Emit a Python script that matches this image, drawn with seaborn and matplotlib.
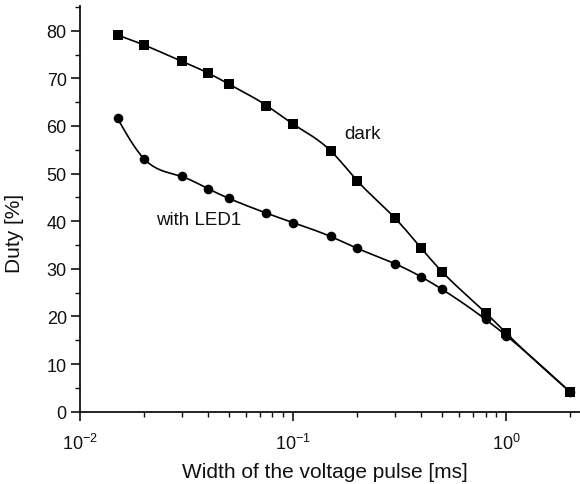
import numpy as np
import pandas as pd
import matplotlib
matplotlib.use("Agg")
import matplotlib.pyplot as plt
from matplotlib.ticker import MultipleLocator, LogLocator, NullFormatter
import seaborn as sns

# ---- data ----
pulse_width_ms = [0.015, 0.02, 0.03, 0.04, 0.05, 0.075, 0.1, 0.15, 0.2, 0.3, 0.4, 0.5, 0.8, 1.0, 2.0]
duty_dark = [79.1, 77.0, 73.6, 71.1, 68.8, 64.3, 60.4, 54.8, 48.5, 40.7, 34.3, 29.4, 20.8, 16.5, 4.1]
duty_led1 = [61.6, 53.1, 49.4, 46.8, 44.8, 41.7, 39.7, 36.8, 34.3, 31.1, 28.3, 25.7, 19.4, 16.0, 4.1]
series_labels = ["dark", "with LED1"]
x_label = "Width of the voltage pulse [ms]"
y_label = "Duty [%]"

sns.set_style("ticks")
plt.rcParams['font.family'] = ['Liberation Sans', 'DejaVu Sans']
plt.rcParams['mathtext.fontset'] = 'custom'
plt.rcParams['mathtext.rm'] = 'Liberation Sans'
plt.rcParams['mathtext.it'] = 'Liberation Sans:italic'
plt.rcParams['text.color'] = '#111111'
plt.rcParams['axes.labelcolor'] = '#111111'


def natural_spline(x, y, xs):
    x = np.asarray(x, float); y = np.asarray(y, float)
    n = len(x)
    h = np.diff(x)
    A = np.zeros((n, n)); b = np.zeros(n)
    A[0, 0] = 1; A[-1, -1] = 1
    for i in range(1, n - 1):
        A[i, i - 1] = h[i - 1]
        A[i, i] = 2 * (h[i - 1] + h[i])
        A[i, i + 1] = h[i]
        b[i] = 3 * ((y[i + 1] - y[i]) / h[i] - (y[i] - y[i - 1]) / h[i - 1])
    c = np.linalg.solve(A, b)
    out = np.empty_like(xs)
    for j, xv in enumerate(xs):
        i = min(max(np.searchsorted(x, xv) - 1, 0), n - 2)
        d = xv - x[i]
        bi = (y[i + 1] - y[i]) / h[i] - h[i] * (2 * c[i] + c[i + 1]) / 3
        di = (c[i + 1] - c[i]) / (3 * h[i])
        out[j] = y[i] + bi * d + c[i] * d ** 2 + di * d ** 3
    return out


fig = plt.figure(figsize=(5.8, 4.85), dpi=100)
ax = fig.add_axes([80 / 580, 72.3 / 485, 500 / 580, 405.7 / 485])

lx = np.log10(pulse_width_ms)
for vals, mk in [(duty_dark, 's'), (duty_led1, 'o')]:
    xs_log = np.linspace(lx[0], lx[-1], 400)
    ys = natural_spline(lx, vals, xs_log)
    ax.plot(10 ** xs_log, ys, color='black', lw=1.2, zorder=2)
    sns.scatterplot(x=pulse_width_ms, y=vals, marker=mk, s=48, color='black',
                    edgecolor='black', linewidth=0, ax=ax, zorder=3)

ax.set_xscale('log')
ax.set_xlim(0.01, 2.22)
ax.set_ylim(0, 85.2)
ax.yaxis.set_major_locator(MultipleLocator(10))
ax.yaxis.set_minor_locator(MultipleLocator(5))
ax.xaxis.set_major_locator(LogLocator(base=10))
ax.xaxis.set_minor_locator(LogLocator(base=10, subs=np.arange(2, 10)))
ax.xaxis.set_minor_formatter(NullFormatter())

sns.despine(ax=ax)
for s in ['left', 'bottom']:
    ax.spines[s].set_linewidth(1.3)
    ax.spines[s].set_color('#111111')
ax.tick_params(which='major', direction='out', length=6.5, width=1.2, labelsize=13,
               colors='#111111', pad=3)
ax.tick_params(which='minor', direction='out', length=3.5, width=1.0, colors='#111111')
ax.tick_params(axis='x', which='major', pad=9)

ax.set_xlabel(x_label, fontsize=15)
ax.set_ylabel(y_label, fontsize=15)
ax.xaxis.set_label_coords(0.49, -0.125)
ax.yaxis.set_label_coords(-0.112, 0.443)

ax.text(0.211, 58.4, series_labels[0], fontsize=13.5, ha='center', va='center')
ax.text(0.036, 40.3, series_labels[1], fontsize=13.5, ha='center', va='center')

fig.savefig("out.png", dpi=100)
